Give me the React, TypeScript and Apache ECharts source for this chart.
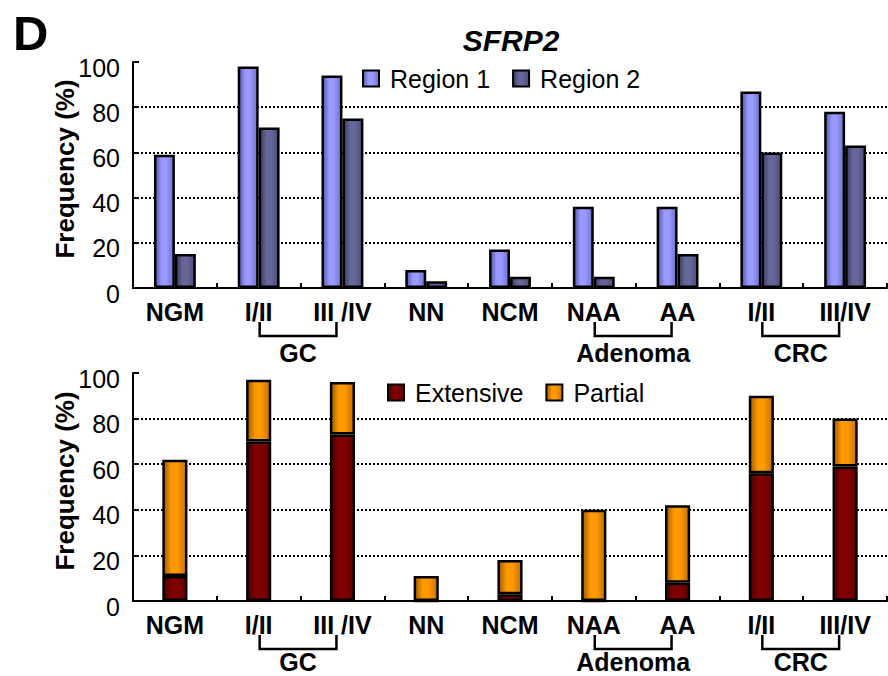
import React, { useEffect, useRef } from "react";
import * as echarts from "echarts";

const categories = ["NGM", "I/II", "III /IV", "NN", "NCM", "NAA", "AA", "I/II", "III/IV"];
const region1 = [59, 98, 94, 8, 17, 36, 36, 87, 78];
const region2 = [15, 71, 75, 3, 5, 5, 15, 60, 63];
const extensive = [11, 70, 73, 0, 3, 0, 8, 56, 59];
const partial = [51, 27, 23, 11, 15, 40, 34, 34, 21];
const yTickMax = 100;
const yTickStep = 20;
const groupLabels = ["GC", "Adenoma", "CRC"];
const groupStart = [1, 5, 7];
const groupEnd = [2, 6, 8];
const titleText = "SFRP2";
const panelLetter = "D";
const yName = "Frequency (%)";

const FONT = "'Liberation Sans', Arial, sans-serif";

const grad = (stops: [number, string][]) =>
  new echarts.graphic.LinearGradient(
    0, 0, 1, 0,
    stops.map(([offset, color]) => ({ offset, color }))
  );

const c1 = grad([[0, "#5555a8"], [0.35, "#9999ff"], [0.6, "#9999ff"], [1, "#7070cc"]]);
const c2 = grad([[0, "#3a3a62"], [0.35, "#666699"], [0.6, "#666699"], [1, "#4d4d78"]]);
const cExt = grad([[0, "#4a0000"], [0.35, "#800000"], [0.6, "#800000"], [1, "#600000"]]);
const cPart = grad([[0, "#a05c00"], [0.35, "#ff9900"], [0.6, "#ff9900"], [1, "#c47000"]]);

export default function App() {
  const ref = useRef<HTMLDivElement>(null);
  useEffect(() => {
    if (!ref.current) return;
    const chart = echarts.init(ref.current, undefined, { renderer: "svg" });

    const xAxisBase = (gridIndex: number) => ({
      type: "category",
      gridIndex,
      data: categories,
      axisLine: { show: true, lineStyle: { color: "#000", width: 2 } },
      axisTick: { show: true, inside: true, length: 5, lineStyle: { color: "#000", width: 2 } },
      axisLabel: {
        interval: 0,
        color: "#000",
        fontWeight: "bold",
        fontSize: 25,
        fontFamily: FONT,
        margin: 11,
      },
    });
    const yAxisBase = (gridIndex: number) => ({
      type: "value",
      gridIndex,
      min: 0,
      max: yTickMax,
      interval: yTickStep,
      name: yName,
      nameLocation: "middle",
      nameRotate: 90,
      nameGap: 55,
      nameMoveOverlap: false,
      nameTextStyle: { color: "#000", fontWeight: "bold", fontSize: 26, fontFamily: FONT, padding: [0, 0, 0, 12] },
      axisLine: { show: true, lineStyle: { color: "#000", width: 2 } },
      axisTick: { show: true, inside: true, length: 6, lineStyle: { color: "#000", width: 2 } },
      axisLabel: {
        color: "#000",
        fontSize: 25,
        fontFamily: FONT,
        margin: 13,
        formatter: "{s|{value}}",
        rich: { s: { fontSize: 25, fontFamily: FONT, color: "#000", padding: [11, 0, 0, 0] } },
      },
      splitLine: {
        show: true,
        showMinLine: false,
        showMaxLine: false,
        lineStyle: { color: "#000", width: 2, type: [2, 2] },
      },
    });
    const barBorder = { borderColor: "#000", borderWidth: 2.5 };
    const legendBase = {
      itemWidth: 16,
      itemHeight: 16,
      itemGap: 22,
      icon: "rect",
      padding: 0,
      itemStyle: { borderColor: "#000", borderWidth: 2 },
      textStyle: { color: "#000", fontSize: 25, fontFamily: FONT, padding: [0, 0, 0, 6] },
      selectedMode: false,
    };

    chart.setOption({
      animation: false,
      backgroundColor: "#fff",
      grid: [
        { left: 133, top: 62, width: 754, height: 226 },
        { left: 133, top: 373, width: 754, height: 228 },
      ],
      xAxis: [xAxisBase(0), xAxisBase(1)],
      yAxis: [yAxisBase(0), yAxisBase(1)],
      legend: [
        { ...legendBase, data: ["Region 1", "Region 2"], left: 362, top: 66 },
        { ...legendBase, data: ["Extensive", "Partial"], left: 387, top: 380 },
      ],
      series: [
        {
          name: "Region 1", type: "bar", xAxisIndex: 0, yAxisIndex: 0, data: region1,
          barWidth: "25%", barGap: "0%", itemStyle: { color: c1, ...barBorder },
        },
        {
          name: "Region 2", type: "bar", xAxisIndex: 0, yAxisIndex: 0, data: region2,
          barWidth: "25%", barGap: "0%", itemStyle: { color: c2, ...barBorder },
        },
        {
          name: "Extensive", type: "bar", xAxisIndex: 1, yAxisIndex: 1, stack: "meth", data: extensive,
          barWidth: "30%", itemStyle: { color: cExt, ...barBorder },
        },
        {
          name: "Partial", type: "bar", xAxisIndex: 1, yAxisIndex: 1, stack: "meth", data: partial,
          barWidth: "30%", itemStyle: { color: cPart, ...barBorder },
        },
      ],
    });

    const graphics: any[] = [
      {
        type: "text", left: 13, top: 8,
        style: { text: panelLetter, fontSize: 49, fontWeight: "bold", fontFamily: FONT, fill: "#000" },
      },
      {
        type: "text", x: 511, y: 40,
        style: {
          text: titleText, fontSize: 30, fontWeight: "bold", fontStyle: "italic", fontFamily: FONT,
          fill: "#000", align: "center", verticalAlign: "middle",
        },
      },
    ];
    const labelOffset = [65, 61];
    [0, 1].forEach((gi) => {
      const y0 = chart.convertToPixel({ yAxisIndex: gi }, 0) as number;
      groupLabels.forEach((label, i) => {
        const x1 = (chart.convertToPixel({ xAxisIndex: gi }, groupStart[i]) as number) + 1;
        const x2 = (chart.convertToPixel({ xAxisIndex: gi }, groupEnd[i]) as number) - 6;
        graphics.push({
          type: "polyline",
          shape: { points: [[x1, y0 + 34], [x1, y0 + 48], [x2, y0 + 48], [x2, y0 + 34]] },
          style: { stroke: "#000", lineWidth: 2.5, fill: null },
        });
        graphics.push({
          type: "text", x: (x1 + x2) / 2, y: y0 + labelOffset[gi],
          style: {
            text: label, fontSize: 25, fontWeight: "bold", fontFamily: FONT, fill: "#000",
            align: "center", verticalAlign: "middle",
          },
        });
      });
    });
    chart.setOption({ graphic: graphics });

    return () => chart.dispose();
  }, []);
  return (
    <div
      ref={ref}
      style={{ position: "absolute", left: 0, top: 0, width: 888, height: 676 }}
    />
  );
}
